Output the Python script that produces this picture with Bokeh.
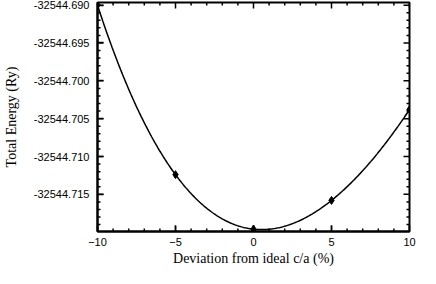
import math
import numpy as np
from bokeh.plotting import figure
from bokeh.models import Range1d, FixedTicker, PrintfTickFormatter
from bokeh.embed import file_html
from bokeh.resources import INLINE

# data
deviation = [-10, -5, 0, 5, 10]
energy = [-32544.6900, -32544.7124, -32544.7196, -32544.7158, -32544.7038]
x_label = "Deviation from ideal c/a (%)"
y_label = "Total Energy (Ry)"

# axis extents and tick positions
x_lo, x_hi = -10, 10
y_lo, y_hi = -32544.71991, -32544.68965
x_major = [-10, -5, 0, 5, 10]
x_minor = [-9, -8, -7, -6, -4, -3, -2, -1, 1, 2, 3, 4, 6, 7, 8, 9]
y_major = [-32544.715, -32544.710, -32544.705, -32544.700, -32544.695, -32544.690]
y_minor = [-32544.719, -32544.718, -32544.717, -32544.716,
           -32544.714, -32544.713, -32544.712, -32544.711,
           -32544.709, -32544.708, -32544.707, -32544.706,
           -32544.704, -32544.703, -32544.702, -32544.701,
           -32544.699, -32544.698, -32544.697, -32544.696,
           -32544.694, -32544.693, -32544.692, -32544.691]

x = np.array(deviation, dtype=float)
y = np.array(energy, dtype=float)
y0 = y.min()
coef = np.polyfit(x, y - y0, 4)
xs = np.linspace(x.min(), x.max(), 300)
ys = np.polyval(coef, xs) + y0

p = figure(width=420, height=268, output_backend="svg", toolbar_location=None,
           x_range=Range1d(x_lo, x_hi), y_range=Range1d(y_lo, y_hi),
           min_border_top=2, min_border_right=11, min_border_left=4, min_border_bottom=0)
p.xgrid.visible = False
p.ygrid.visible = False
p.outline_line_color = "black"
p.outline_line_width = 2

def style(ax):
    ax.axis_line_color = "black"
    ax.axis_line_width = 2
    ax.major_tick_in = 6
    ax.major_tick_out = 0
    ax.minor_tick_in = 0
    ax.minor_tick_out = 0
    ax.major_tick_line_color = "black"
    ax.major_tick_line_width = 1.5
    ax.major_label_text_font = "Liberation Sans"
    ax.major_label_text_font_size = "11px"
    ax.major_label_text_color = "black"
    ax.axis_label_text_font = "Liberation Serif"
    ax.axis_label_text_font_size = "14px"
    ax.axis_label_text_font_style = "normal"
    ax.axis_label_text_color = "black"

xa = p.xaxis[0]
xa.ticker = FixedTicker(ticks=x_major)
xa.axis_label = x_label
style(xa)
xa.major_label_standoff = 6
xa.axis_label_standoff = 2

ya = p.yaxis[0]
ya.ticker = FixedTicker(ticks=y_major)
ya.formatter = PrintfTickFormatter(format="%.3f")
ya.axis_label = y_label
style(ya)
ya.major_label_standoff = 8
ya.axis_label_standoff = 12

# inward ticks on all four sides, as screen-length rays starting at the frame edge
ray_kw = dict(length_units="screen", line_color="black", line_width=1.5)
for yy, ang in ((y_lo, math.pi / 2), (y_hi, -math.pi / 2)):
    p.ray(x=x_major, y=[yy] * len(x_major), length=6, angle=ang, **ray_kw)
    p.ray(x=x_minor, y=[yy] * len(x_minor), length=3, angle=ang, **ray_kw)
for xx, ang in ((x_lo, 0.0), (x_hi, math.pi)):
    p.ray(x=[xx] * len(y_major), y=y_major, length=6, angle=ang, **ray_kw)
    p.ray(x=[xx] * len(y_minor), y=y_minor, length=3, angle=ang, **ray_kw)

p.line(xs, ys, line_color="black", line_width=1.5)
p.scatter(x, y, marker="diamond", size=8, color="black")

open("out.html", "w").write(file_html(p, INLINE))
